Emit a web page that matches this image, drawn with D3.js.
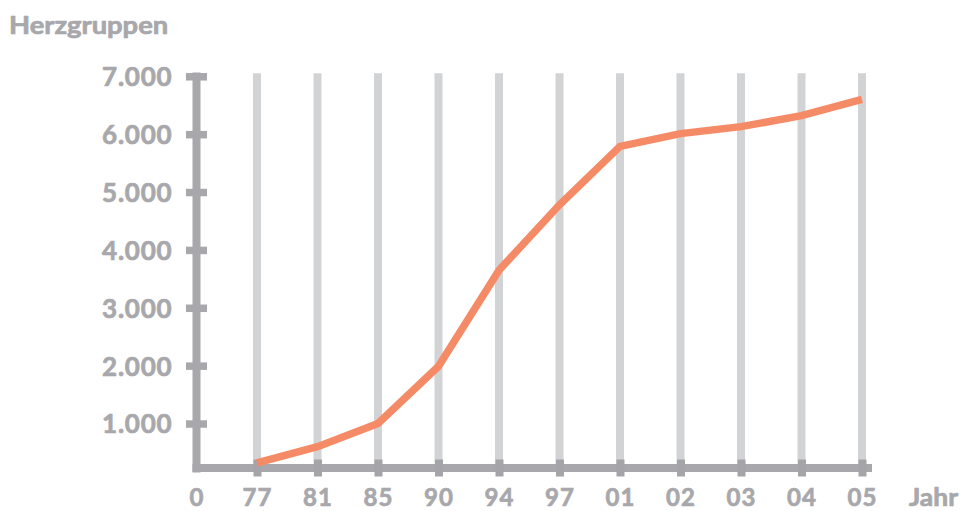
<!DOCTYPE html>
<html>
<head>
<meta charset="utf-8">
<script src="https://cdn.jsdelivr.net/npm/d3@7"></script>
<style>
  html, body { margin: 0; padding: 0; background: #fff; }
  svg text { font-family: "Lato", "Noto Sans", sans-serif; font-weight: 700;
             fill: #a8a8ac; stroke: #a8a8ac; stroke-width: 0.7px; }
</style>
</head>
<body>
<svg id="chart" width="960" height="511"></svg>
<script>
// Herzgruppen in Deutschland, nach Jahr
const years = ["77", "81", "85", "90", "94", "97", "01", "02", "03", "04", "05"];
const groups = [320, 600, 1000, 1990, 3650, 4780, 5790, 6010, 6130, 6320, 6600];
const yTicks = [1000, 2000, 3000, 4000, 5000, 6000, 7000];
const xLabels = ["0"].concat(years);
const yTitle = "Herzgruppen";
const xTitle = "Jahr";

const axisX = 196.5, baseY = 468, right = 862;
const svg = d3.select("#chart");

const x = d3.scalePoint().domain(xLabels).range([axisX, right]);
const y = d3.scaleLinear().domain([0, 7000]).range([481.4, 76.3]);

const AXIS = "#a8a8ac", GRID = "#d2d3d5", LINE = "#f58b66";
const fmt = d => d3.format(",")(d).replace(/,/g, ".");

// vertical grid bars at every year
svg.append("g").selectAll("line").data(years).join("line")
  .attr("x1", d => x(d)).attr("x2", d => x(d))
  .attr("y1", y(7000) - 3).attr("y2", baseY)
  .attr("stroke", GRID).attr("stroke-width", 8);

// y axis
const gy = svg.append("g").attr("transform", `translate(${axisX},0)`)
  .call(d3.axisLeft(y).tickValues(yTicks).tickFormat(fmt).tickSize(0).tickPadding(24));
gy.select(".domain").remove();
gy.selectAll(".tick line")
  .attr("x1", -10.5).attr("x2", 10.5)
  .attr("stroke", AXIS).attr("stroke-width", 7.5);
gy.selectAll(".tick text")
  .attr("font-size", 26).attr("letter-spacing", 0.8).attr("dy", "0.36em")
  .style("font-family", null).attr("fill", AXIS);
svg.append("line")
  .attr("x1", axisX).attr("x2", axisX)
  .attr("y1", y(7000) - 3.8).attr("y2", baseY + 4.5)
  .attr("stroke", AXIS).attr("stroke-width", 8);

// x axis
svg.append("line")
  .attr("x1", axisX - 4).attr("x2", right + 10)
  .attr("y1", baseY).attr("y2", baseY)
  .attr("stroke", AXIS).attr("stroke-width", 8);
const gx = svg.append("g").attr("transform", `translate(0,${baseY})`)
  .call(d3.axisBottom(x).tickSize(0).tickPadding(0));
gx.select(".domain").remove();
gx.selectAll(".tick line")
  .attr("y1", d => d === "0" ? 0 : -8.5).attr("y2", d => d === "0" ? 0 : 8.5)
  .attr("stroke", "#a5a5a9").attr("stroke-width", 8);
gx.selectAll(".tick text")
  .attr("y", 38).attr("dy", null).attr("font-size", 24).attr("letter-spacing", 1)
  .style("font-family", null).attr("fill", AXIS);

// titles, set slightly wide
svg.append("text").attr("transform", "translate(9,33.5) scale(1.14,1)")
  .attr("font-size", 24).text(yTitle);
svg.append("text").attr("transform", "translate(958,506) scale(1.1,1)")
  .attr("text-anchor", "end").attr("font-size", 24).text(xTitle);

// data line
svg.append("path")
  .datum(years.map((d, i) => [d, groups[i]]))
  .attr("fill", "none").attr("stroke", LINE).attr("stroke-width", 7.5)
  .attr("stroke-linejoin", "miter")
  .attr("d", d3.line().x(d => x(d[0])).y(d => y(d[1])));
</script>
</body>
</html>
